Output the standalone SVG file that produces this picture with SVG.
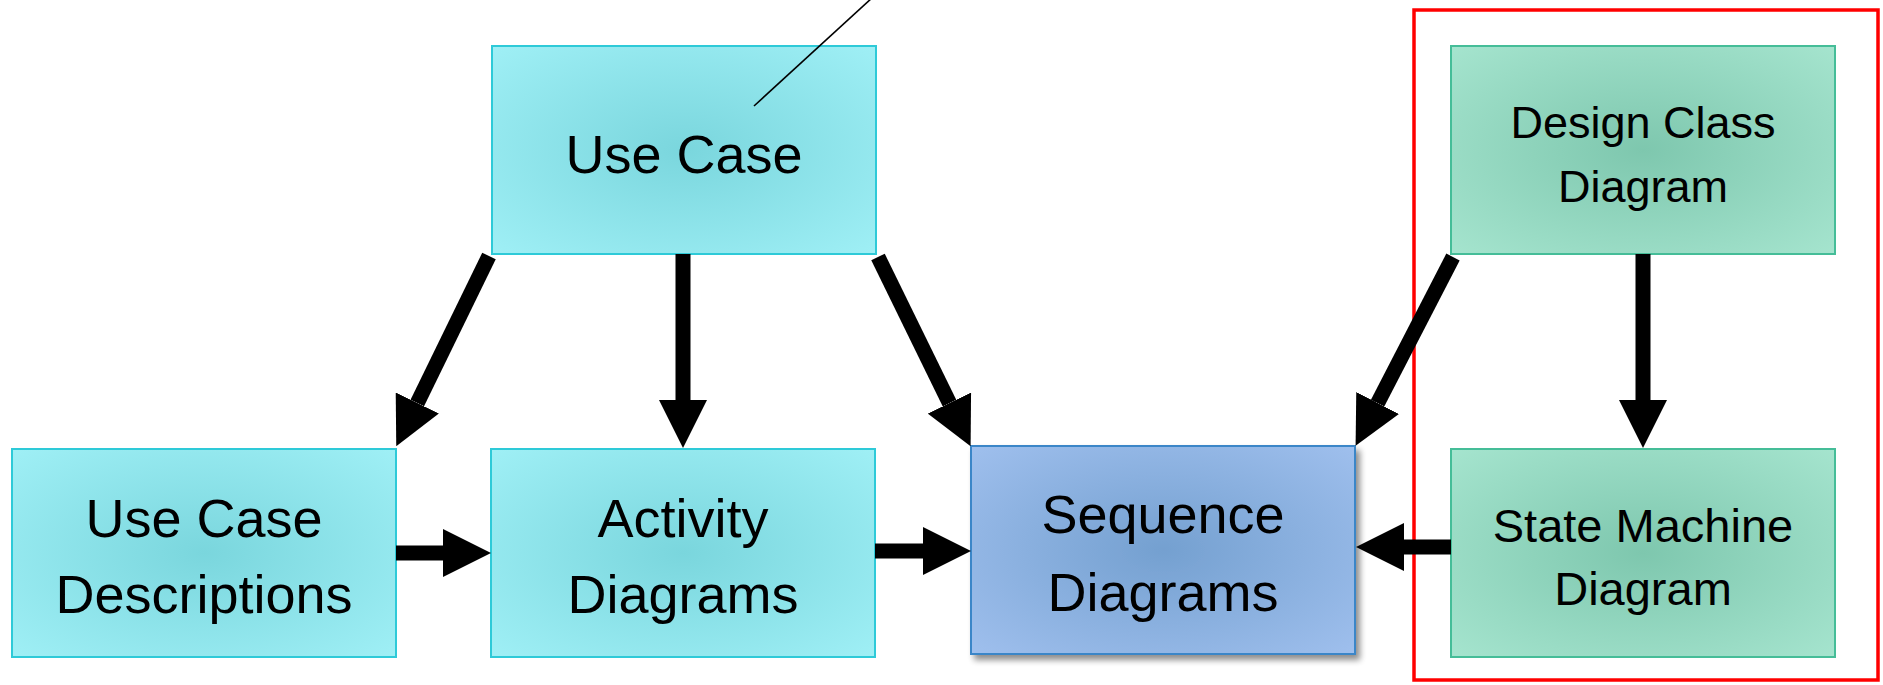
<svg xmlns="http://www.w3.org/2000/svg" width="1883" height="685" viewBox="0 0 1883 685">
<style>
text{font-family:"Liberation Sans",Arial,sans-serif;fill:#000;text-anchor:middle}
.big{font-size:54px}
.small{font-size:45px}
.small2{font-size:47px}
.cyan{fill:url(#gCyan);stroke:#2ECAD8;stroke-width:2}
.blue{fill:url(#gBlue);stroke:#3A86C8;stroke-width:2}
.green{fill:url(#gGreen);stroke:#45BD98;stroke-width:2}
.arr{stroke:#000;stroke-width:15;fill:none;marker-end:url(#head)}
</style>
<defs>
<radialGradient id="gCyan" cx="0.5" cy="0.5" r="0.72">
<stop offset="0" stop-color="#7AD6DD"/>
<stop offset="1" stop-color="#A0F0F6"/>
</radialGradient>
<radialGradient id="gBlue" cx="0.5" cy="0.5" r="0.72">
<stop offset="0" stop-color="#74A0D0"/>
<stop offset="1" stop-color="#A0C0EE"/>
</radialGradient>
<radialGradient id="gGreen" cx="0.5" cy="0.5" r="0.72">
<stop offset="0" stop-color="#7EC7AE"/>
<stop offset="1" stop-color="#A6E5CF"/>
</radialGradient>
<filter id="shadow" x="-10%" y="-10%" width="125%" height="125%">
<feGaussianBlur in="SourceAlpha" stdDeviation="3"/>
<feOffset dx="4" dy="5" result="b"/>
<feComponentTransfer><feFuncA type="linear" slope="0.45"/></feComponentTransfer>
<feMerge><feMergeNode/><feMergeNode in="SourceGraphic"/></feMerge>
</filter>
<marker id="head" markerUnits="userSpaceOnUse" markerWidth="48" markerHeight="48" refX="0" refY="24" orient="auto" viewBox="0 0 48 48">
<path d="M0,0 L48,24 L0,48 Z" fill="#000"/>
</marker>
</defs>

<rect x="1414" y="10" width="464" height="670" fill="none" stroke="#FF0000" stroke-width="3.5"/>

<g id="use-case">
<rect class="cyan" x="492" y="46" width="384" height="208"/>
<text class="big" x="684" y="173">Use Case</text>
</g>

<g id="use-case-descriptions">
<rect class="cyan" x="12" y="449" width="384" height="208"/>
<text class="big" x="204" y="537">Use Case</text>
<text class="big" x="204" y="613">Descriptions</text>
</g>

<g id="activity-diagrams">
<rect class="cyan" x="491" y="449" width="384" height="208"/>
<text class="big" x="683" y="537">Activity</text>
<text class="big" x="683" y="613">Diagrams</text>
</g>

<g id="sequence-diagrams">
<rect class="blue" x="971" y="446" width="384" height="208" filter="url(#shadow)"/>
<text class="big" x="1163" y="533">Sequence</text>
<text class="big" x="1163" y="611">Diagrams</text>
</g>

<g id="design-class-diagram">
<rect class="green" x="1451" y="46" width="384" height="208"/>
<text class="small" x="1643" y="138">Design Class</text>
<text class="small" x="1643" y="202">Diagram</text>
</g>

<g id="state-machine-diagram">
<rect class="green" x="1451" y="449" width="384" height="208"/>
<text class="small2" x="1643" y="542">State Machine</text>
<text class="small2" x="1643" y="605">Diagram</text>
</g>

<g id="connectors">
<line class="arr" x1="489" y1="256" x2="417.3" y2="403"/>
<line class="arr" x1="683" y1="254" x2="683" y2="400"/>
<line class="arr" x1="878" y1="257" x2="949.5" y2="403.1"/>
<line class="arr" x1="396" y1="553" x2="443" y2="553"/>
<line class="arr" x1="875" y1="551" x2="923" y2="551"/>
<line class="arr" x1="1453" y1="257" x2="1377.6" y2="403.1"/>
<line class="arr" x1="1643" y1="254" x2="1643" y2="400"/>
<line class="arr" x1="1451" y1="547" x2="1404" y2="547"/>
<line x1="873" y1="-3" x2="754" y2="106" stroke="#000" stroke-width="1.6"/>
</g>
</svg>
